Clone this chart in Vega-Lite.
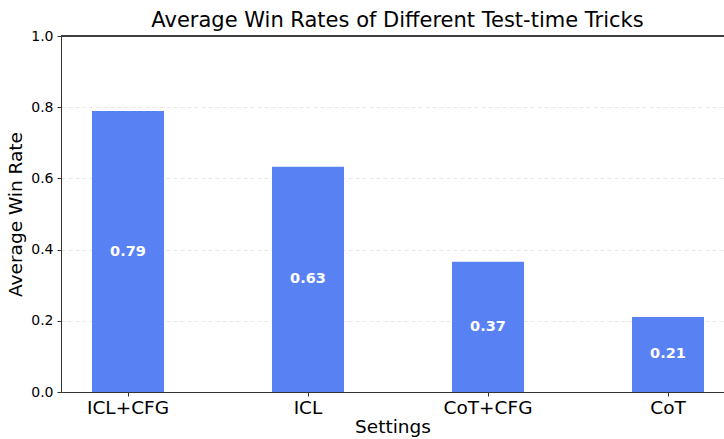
{
  "$schema": "https://vega.github.io/schema/vega-lite/v6.json",
  "width": 663,
  "height": 356,
  "autosize": {"type": "none"},
  "padding": {"left": 61, "top": 36, "right": 0, "bottom": 47},
  "background": "white",
  "config": {
    "view": {"stroke": null},
    "font": "DejaVu Sans"
  },
  "title": {
    "text": "Average Win Rates of Different Test-time Tricks",
    "fontSize": 21,
    "fontWeight": "normal",
    "color": "#000000",
    "dx": 5,
    "offset": -2
  },
  "data": {
    "values": [
      {"setting": "ICL+CFG", "rate": 0.789},
      {"setting": "ICL", "rate": 0.633},
      {"setting": "CoT+CFG", "rate": 0.366},
      {"setting": "CoT", "rate": 0.211}
    ]
  },
  "transform": [{"calculate": "datum.rate / 2", "as": "mid"}],
  "layer": [
    {
      "mark": {"type": "bar", "color": "#5882F4"},
      "encoding": {
        "x": {
          "field": "setting",
          "type": "nominal",
          "sort": null,
          "scale": {"paddingInner": 0.6, "paddingOuter": 0.1417, "align": 0.608},
          "axis": {
            "title": "Settings",
            "titleFontSize": 18.5,
            "titleFontWeight": "normal",
            "titleColor": "#000000",
            "titlePadding": 1,
            "labelFontSize": 18.5,
            "labelColor": "#000000",
            "labelAngle": 0,
            "labelPadding": 2,
            "tickSize": 4,
            "tickColor": "#333333",
            "domainColor": "#333333",
            "domainWidth": 1,
            "grid": false
          }
        },
        "y": {
          "field": "rate",
          "type": "quantitative",
          "scale": {"domain": [0, 1], "nice": false},
          "axis": {
            "title": "Average Win Rate",
            "titleFontSize": 18.5,
            "titleFontWeight": "normal",
            "titleColor": "#000000",
            "titlePadding": 5,
            "labelFontSize": 14,
            "labelColor": "#000000",
            "labelPadding": 4,
            "format": ".1f",
            "values": [0, 0.2, 0.4, 0.6, 0.8, 1.0],
            "tickSize": 4,
            "tickColor": "#333333",
            "domainColor": "#333333",
            "grid": true,
            "gridColor": "#e3e3e3",
            "gridDash": [4, 3],
            "gridWidth": 0.8
          }
        }
      }
    },
    {
      "mark": {"type": "rule", "color": "#333333", "strokeWidth": 1},
      "encoding": {"y": {"datum": 1}}
    },
    {
      "mark": {"type": "text", "color": "white", "fontWeight": "bold", "fontSize": 14.5, "baseline": "middle", "align": "center"},
      "encoding": {
        "x": {"field": "setting", "type": "nominal", "sort": null},
        "y": {"field": "mid", "type": "quantitative"},
        "text": {"field": "rate", "type": "quantitative", "format": ".2f"}
      }
    }
  ]
}
